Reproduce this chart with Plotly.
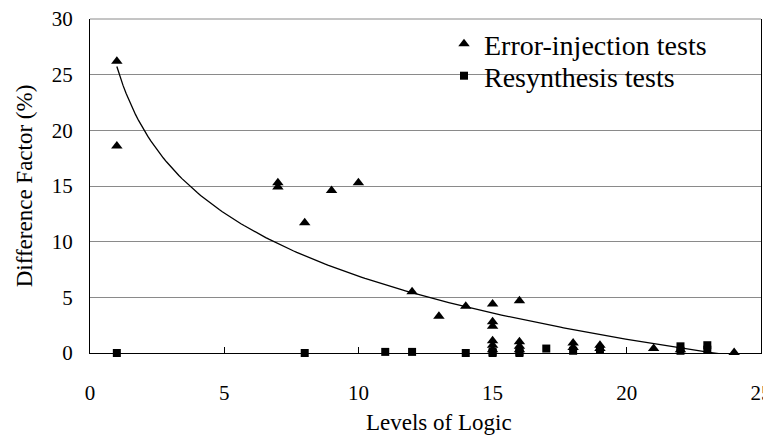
import numpy as np
import plotly.graph_objects as go

# Error-injection tests (triangles)
err_x = [1, 1, 7, 7, 8, 9, 10, 12, 13, 14, 15, 15, 15, 15, 15, 15, 16, 16, 16, 16, 18, 18, 19, 19, 21, 22, 24]
err_y = [26.2, 18.6, 15.3, 14.9, 11.7, 14.6, 15.3, 5.5, 3.3, 4.2, 4.4, 2.8, 2.4, 1.1, 0.7, 0.3, 4.7, 1.0, 0.6, 0.3, 0.9, 0.5, 0.7, 0.4, 0.4, 0.3, 0.05]

# Resynthesis tests (squares)
res_x = [1, 8, 11, 12, 14, 15, 15, 16, 16, 17, 18, 19, 22, 22, 23, 23]
res_y = [0.0, 0.0, 0.1, 0.1, 0.0, 0.1, 0.0, 0.1, 0.0, 0.4, 0.2, 0.3, 0.6, 0.2, 0.7, 0.3]

x_ticks = [0, 5, 10, 15, 20, 25]
y_ticks = [0, 5, 10, 15, 20, 25, 30]

# logarithmic trendline fitted to error-injection data (like a spreadsheet trendline)
a, b = np.polyfit(np.log(err_x), err_y, 1)
tx = np.linspace(min(err_x), max(err_x), 200)
ty = a * np.log(tx) + b

FONT = "Liberation Serif, Times New Roman, DejaVu Serif, serif"

fig = go.Figure()
fig.add_trace(go.Scatter(x=tx, y=ty, mode="lines", line=dict(color="black", width=1.3),
                         showlegend=False, hoverinfo="skip"))
fig.add_trace(go.Scatter(x=err_x, y=err_y, mode="markers", name="Error-injection tests",
                         marker=dict(symbol="triangle-up", size=10, color="black"),
                         cliponaxis=False, legend="legend"))
fig.add_trace(go.Scatter(x=res_x, y=res_y, mode="markers", name="Resynthesis tests",
                         marker=dict(symbol="square", size=8, color="black"),
                         cliponaxis=False, legend="legend2"))

leg_common = dict(xanchor="left", yanchor="middle",
                  font=dict(family=FONT, size=28, color="black"),
                  bgcolor="rgba(0,0,0,0)")

PH = 334  # plot height in px

fig.update_layout(
    width=763, height=428,
    margin=dict(l=82, r=10, t=11, b=83, autoexpand=False),
    paper_bgcolor="white", plot_bgcolor="white",
    font=dict(family=FONT, color="black", size=21),
    legend=dict(x=(444 - 90) / 671, y=(353 - 44) / PH, **leg_common),
    legend2=dict(x=(444 - 90) / 671, y=(353 - 76) / PH, **leg_common),
    xaxis=dict(range=[0, 25], tickvals=x_ticks, showgrid=False, zeroline=False,
               showline=True, linecolor="black", linewidth=1,
               ticks="inside", ticklen=6, tickcolor="black", ticklabeloverflow="allow",
               ticklabelstandoff=21, tickfont=dict(size=21)),
    yaxis=dict(range=[0, 30], tickvals=y_ticks, showgrid=True, gridcolor="#8a8a8a", gridwidth=1,
               zeroline=False, showline=True, linecolor="black", linewidth=1, mirror=True,
               ticks="", ticklabelstandoff=12, tickfont=dict(size=21), ticklabeloverflow="allow",
               title=dict(text="Difference Factor (%)", font=dict(size=23), standoff=12)),
    annotations=[dict(text="Levels of Logic", x=(439 - 90) / 671, xref="paper",
                      y=-(422 - 353) / PH, yref="paper", xanchor="center", yanchor="middle",
                      showarrow=False, font=dict(size=23))],
    shapes=[dict(type="line", xref="paper", yref="paper", x0=0, x1=1, y0=1, y1=1,
                 line=dict(color="#8a8a8a", width=1))],
)

fig.write_html("out.html")
